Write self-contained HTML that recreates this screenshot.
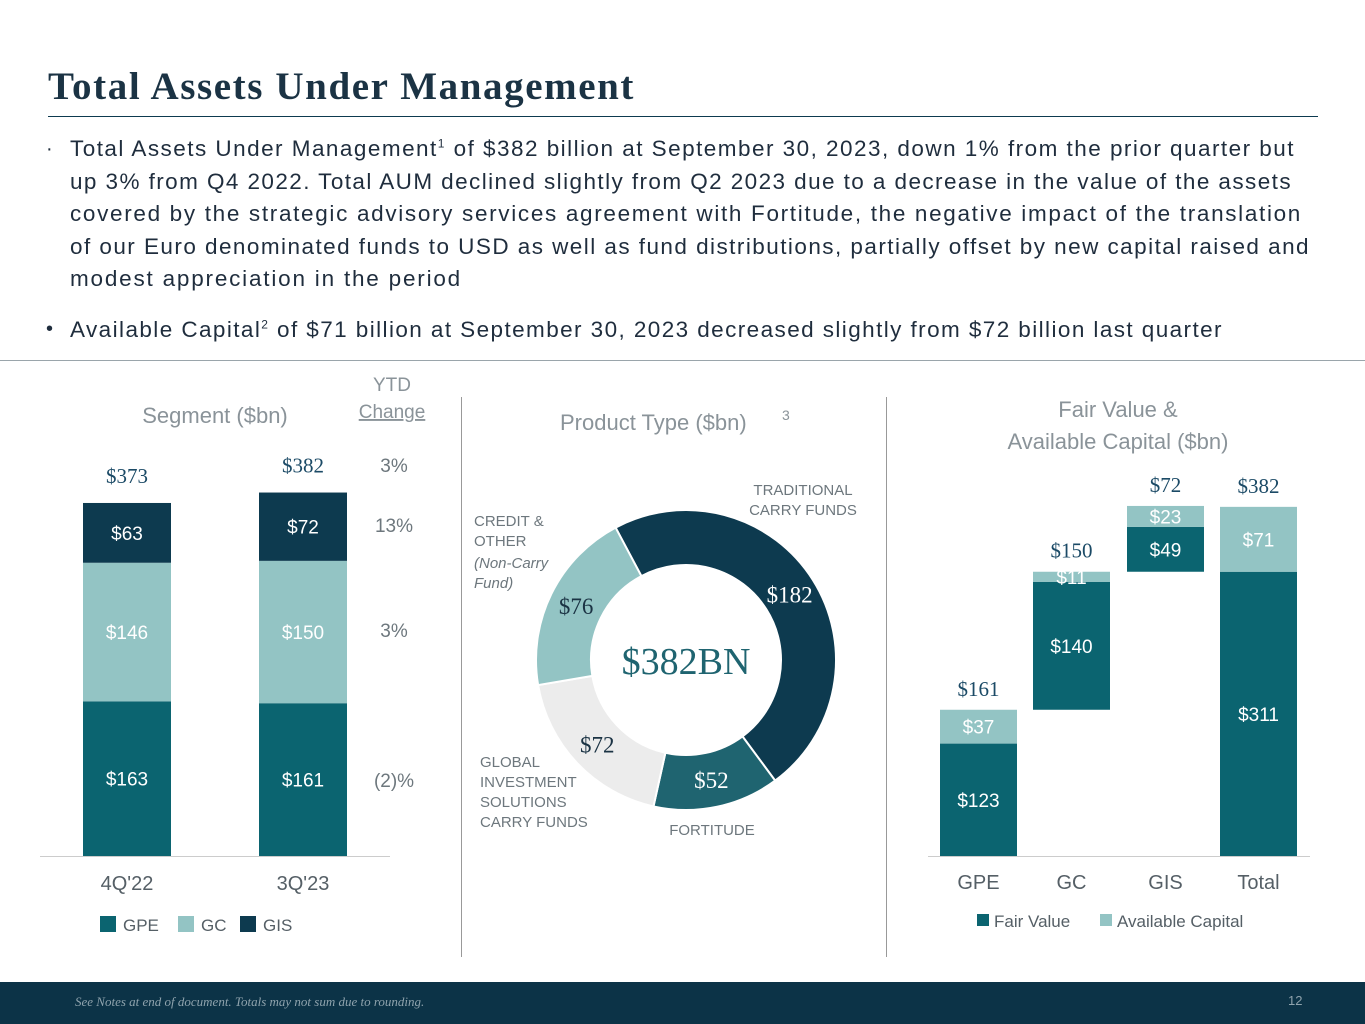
<!DOCTYPE html>
<html><head><meta charset="utf-8">
<style>
body{margin:0;width:1365px;height:1024px;position:relative;background:#fff;font-family:"Liberation Sans",sans-serif;overflow:hidden}
.t{position:absolute;white-space:nowrap}
.ln{position:absolute;left:70px;white-space:nowrap;font-size:22.5px;color:#1f2d3d}
</style></head><body>
<div class="t" style="left:48px;top:64px;font-family:'Liberation Serif',serif;font-weight:bold;font-size:39px;letter-spacing:1.6px;color:#1b3344">Total Assets Under Management</div>
<div style="position:absolute;left:48px;top:116px;width:1270px;height:1px;background:#0d3a4f"></div>
<div>
<div class="t" style="left:46px;top:138px;font-size:20px;color:#1f2d3d">·</div>
<div class="ln" data-w="1225" style="top:136px">Total Assets Under Management<sup style="font-size:12px">1</sup> of $382 billion at September 30, 2023, down 1% from the prior quarter but</div>
<div class="ln" data-w="1222" style="top:168.5px">up 3% from Q4 2022. Total AUM declined slightly from Q2 2023 due to a decrease in the value of the assets</div>
<div class="ln" data-w="1232" style="top:201px">covered by the strategic advisory services agreement with Fortitude, the negative impact of the translation</div>
<div class="ln" data-w="1240" style="top:233.5px">of our Euro denominated funds to USD as well as fund distributions, partially offset by new capital raised and</div>
<div class="ln" data-w="392" style="top:266px">modest appreciation in the period</div>
<div class="t" style="left:46px;top:318px;font-size:20px;color:#1f2d3d">•</div>
<div class="ln" data-w="1153" style="top:317px">Available Capital<sup style="font-size:12px">2</sup> of $71 billion at September 30, 2023 decreased slightly from $72 billion last quarter</div>
</div>
<div style="position:absolute;left:0;top:360px;width:1365px;height:1px;background:#9aa5ab"></div>
<div style="position:absolute;left:461px;top:397px;width:1px;height:560px;background:#999"></div>
<div style="position:absolute;left:886px;top:397px;width:1px;height:560px;background:#999"></div>

<svg id="chart" width="1365" height="1024" style="position:absolute;left:0;top:0" font-family="Liberation Sans, sans-serif"></svg>

<div style="position:absolute;left:0;top:982px;width:1365px;height:42px;background:#0c3347"></div>
<div class="t" style="left:75px;top:994px;font-family:'Liberation Serif',serif;font-style:italic;font-size:13px;color:#8fa3ad">See Notes at end of document. Totals may not sum due to rounding.</div>
<div class="t" style="left:1288px;top:993px;font-size:13px;color:#8fa3ad">12</div>

<script>
// Segment chart data
const segPeriods=["4Q'22","3Q'23"];
const segGPE=[163,161];
const segGC=[146,150];
const segGIS=[63,72];
const segTotals=[373,382];
const ytdChange=["3%","13%","3%","(2)%"];
// Product type donut data
const prodNames=["TRADITIONAL CARRY FUNDS","FORTITUDE","GLOBAL INVESTMENT SOLUTIONS CARRY FUNDS","CREDIT & OTHER"];
const prodValues=[182,52,72,76];
// Fair value & available capital
const fvCats=["GPE","GC","GIS","Total"];
const fvValues=[123,140,49,311];
const acValues=[37,11,23,71];
const fvTotals=[161,150,72,382];

document.querySelectorAll('.ln').forEach(el=>{
  const target=+el.getAttribute('data-w');const w=el.getBoundingClientRect().width;
  const n=el.textContent.length;el.style.letterSpacing=((target-w)/n)+'px';
});

const svg=document.getElementById('chart');
const NS='http://www.w3.org/2000/svg';
function mk(tag,attrs,txt){const e=document.createElementNS(NS,tag);for(const k in attrs)e.setAttribute(k,attrs[k]);if(txt!==undefined)e.textContent=txt;svg.appendChild(e);return e;}
const C={gpe:'#0b6470',gc:'#93c4c4',gis:'#0d3a4f',gray:'#555f66'};

// ---- segment chart
const base=856, sy=v=>v*0.949;
const segX=[83,259], segW=88;
let e;
e=mk('text',{x:215,y:423,'text-anchor':'middle','font-size':22,fill:'#8a9399'},'Segment ($bn)');

e=mk('text',{x:392,y:391,'text-anchor':'middle','font-size':19,fill:'#8a9399'},'YTD');

e=mk('text',{x:392,y:418,'text-anchor':'middle','font-size':19,fill:'#8a9399','text-decoration':'underline'},'Change');

segPeriods.forEach((p,i)=>{
  let y=base;
  [[segGPE[i],C.gpe,'#fff','gpe'],[segGC[i],C.gc,'#fff','gc'],[segGIS[i],C.gis,'#fff','gis']].forEach(([v,c,tc,n])=>{
    const h=sy(v);y-=h;
    const r=mk('rect',{x:segX[i],y:y,width:segW,height:h,fill:c});
    
    const t=mk('text',{x:segX[i]+segW/2,y:y+h/2+7,'text-anchor':'middle','font-size':19,fill:tc},'$'+v);
    
  });
  const tt=mk('text',{x:segX[i]+segW/2,y:y-20,'text-anchor':'middle','font-family':'Liberation Serif, serif','font-size':21,fill:'#1b4a66'},'$'+segTotals[i]);
  
  const xl=mk('text',{x:segX[i]+segW/2,y:890,'text-anchor':'middle','font-size':20,fill:C.gray},p);
  
});
const ytdY=[472,532,637,787];
ytdChange.forEach((s,i)=>{e=mk('text',{x:394,y:ytdY[i],'text-anchor':'middle','font-size':19,fill:'#6d777d'},s);
});
e=mk('line',{x1:40,x2:390,y1:base+0.5,y2:base+0.5,stroke:'#ccc'});
[['GPE',C.gpe,100],['GC',C.gc,178],['GIS',C.gis,240]].forEach(([n,c,x])=>{
  e=mk('rect',{x:x,y:916,width:16,height:16,fill:c});
  e=mk('text',{x:x+23,y:931,'font-size':17,fill:C.gray},n);
});

// ---- donut
const cx=686,cy=660,R=150,r0=95;
e=mk('text',{x:560,y:430,'font-size':22,fill:'#8a9399'},'Product Type ($bn)');
e=mk('text',{x:782,y:420,'font-size':14,fill:'#8a9399'},'3');
const dcol=['#0d3a4f','#1f6470','#ececec','#93c4c4'];
const dlc=['#fff','#fff','#1b3344','#1b3344'];
const total=prodValues.reduce((a,b)=>a+b,0);
let ang=-28*Math.PI/180;
const pt=(a,rr)=>[cx+rr*Math.sin(a),cy-rr*Math.cos(a)];
prodValues.forEach((v,i)=>{
  const a2=ang+v/total*2*Math.PI, large=(a2-ang)>Math.PI?1:0;
  const [x1,y1]=pt(ang,R),[x2,y2]=pt(a2,R),[x3,y3]=pt(a2,r0),[x4,y4]=pt(ang,r0);
  const p=mk('path',{d:`M${x1},${y1}A${R},${R} 0 ${large} 1 ${x2},${y2}L${x3},${y3}A${r0},${r0} 0 ${large} 0 ${x4},${y4}Z`,fill:dcol[i],stroke:'#fff','stroke-width':2});
  
  const [lx,ly]=pt((ang+a2)/2,(R+r0)/2);
  const t=mk('text',{x:lx,y:ly+8,'text-anchor':'middle','font-family':'Liberation Serif, serif','font-size':23,fill:dlc[i]},'$'+v);
  
  ang=a2;
});
e=mk('text',{x:cx,y:cy+14,'text-anchor':'middle','font-family':'Liberation Serif, serif','font-size':38,fill:'#1f6470'},'$'+total+'BN');

const cats=[[[ 'TRADITIONAL','CARRY FUNDS'],803,495,'middle',false],[['CREDIT &','OTHER'],474,526,'start',false],[['(Non-Carry','Fund)'],474,568,'start',true],
 [['GLOBAL','INVESTMENT','SOLUTIONS','CARRY FUNDS'],480,767,'start',false],[['FORTITUDE'],712,835,'middle',false]];
cats.forEach(([ls,x,y,an,it])=>{ls.forEach((l,j)=>{e=mk('text',{x:x,y:y+j*20,'text-anchor':an,'font-size':15,fill:'#6d777d','font-style':it?'italic':'normal'},l);
 });});

// ---- fair value chart
const sy2=v=>v*0.914;
const fvX=[940,1033,1127,1220],fvW=77;
e=mk('text',{x:1118,y:417,'text-anchor':'middle','font-size':22,fill:'#8a9399'},'Fair Value &');
e=mk('text',{x:1118,y:449,'text-anchor':'middle','font-size':22,fill:'#8a9399'},'Available Capital ($bn)');
let cum=0;
fvCats.forEach((c,i)=>{
  const start=(i===3)?0:cum;
  let y=base-sy2(start);
  const h1=sy2(fvValues[i]);y-=h1;
  e=mk('rect',{x:fvX[i],y:y,width:fvW,height:h1,fill:C.gpe});
  e=mk('text',{x:fvX[i]+fvW/2,y:y+h1/2+7,'text-anchor':'middle','font-size':19,fill:'#fff'},'$'+fvValues[i]);
  const h2=sy2(acValues[i]);y-=h2;
  e=mk('rect',{x:fvX[i],y:y,width:fvW,height:h2,fill:C.gc});
  e=mk('text',{x:fvX[i]+fvW/2,y:y+h2/2+7,'text-anchor':'middle','font-size':19,fill:'#fff'},'$'+acValues[i]);
  e=mk('text',{x:fvX[i]+fvW/2,y:y-14,'text-anchor':'middle','font-family':'Liberation Serif, serif','font-size':21,fill:'#1b4a66'},'$'+fvTotals[i]);
  e=mk('text',{x:fvX[i]+fvW/2,y:889,'text-anchor':'middle','font-size':20,fill:C.gray},c);
  if(i<3)cum+=fvValues[i]+acValues[i];
});
e=mk('line',{x1:928,x2:1310,y1:base+0.5,y2:base+0.5,stroke:'#ccc'});
[['Fair Value',C.gpe,977],['Available Capital',C.gc,1100]].forEach(([n,c,x])=>{
  e=mk('rect',{x:x,y:914,width:12,height:12,fill:c});
  e=mk('text',{x:x+17,y:927,'font-size':17,fill:C.gray},n);
});
</script>
</body></html>
